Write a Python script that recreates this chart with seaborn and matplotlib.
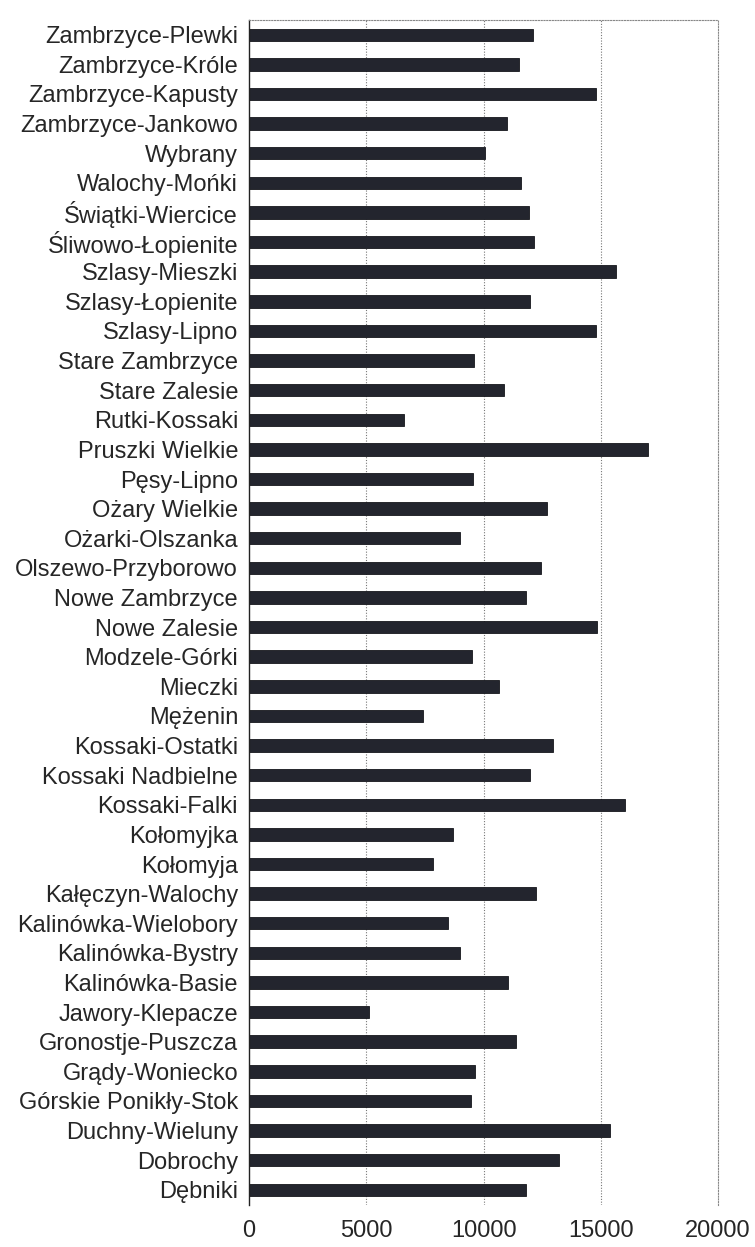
import numpy as np
import matplotlib
matplotlib.use('Agg')
import matplotlib.pyplot as plt
import seaborn as sns

# nazwy miejscowości (od góry do dołu) i wartości
miejscowosci = [
    'Zambrzyce-Plewki', 'Zambrzyce-Króle', 'Zambrzyce-Kapusty', 'Zambrzyce-Jankowo',
    'Wybrany', 'Walochy-Mońki', 'Świątki-Wiercice', 'Śliwowo-Łopienite',
    'Szlasy-Mieszki', 'Szlasy-Łopienite', 'Szlasy-Lipno', 'Stare Zambrzyce',
    'Stare Zalesie', 'Rutki-Kossaki', 'Pruszki Wielkie', 'Pęsy-Lipno',
    'Ożary Wielkie', 'Ożarki-Olszanka', 'Olszewo-Przyborowo', 'Nowe Zambrzyce',
    'Nowe Zalesie', 'Modzele-Górki', 'Mieczki', 'Mężenin',
    'Kossaki-Ostatki', 'Kossaki Nadbielne', 'Kossaki-Falki', 'Kołomyjka',
    'Kołomyja', 'Kałęczyn-Walochy', 'Kalinówka-Wielobory', 'Kalinówka-Bystry',
    'Kalinówka-Basie', 'Jawory-Klepacze', 'Gronostje-Puszcza', 'Grądy-Woniecko',
    'Górskie Ponikły-Stok', 'Duchny-Wieluny', 'Dobrochy', 'Dębniki',
]
wartosci = [
    12100, 11500, 14800, 11000,
    10050, 11600, 11950, 12150,
    15650, 12000, 14800, 9600,
    10850, 6600, 17000, 9550,
    12700, 9000, 12450, 11800,
    14850, 9500, 10650, 7400,
    12950, 12000, 16050, 8700,
    7850, 12230, 8480, 8990,
    11060, 5100, 11400, 9650,
    9450, 15400, 13200, 11800,
]
x_ticks = [0, 5000, 10000, 15000, 20000]

sns.set_style('white')
plt.rcParams['font.family'] = ['Liberation Sans', 'DejaVu Sans']

fig = plt.figure(figsize=(7.55, 12.47), dpi=100)
ax = fig.add_axes([0.330, 0.034, 0.621, 0.950])

sns.barplot(x=wartosci, y=miejscowosci, orient='h', color='#23252e',
            saturation=1, width=0.42, edgecolor='#15161c', linewidth=0.6, ax=ax)

ax.set_xlim(0, 20000)
ax.set_ylim(len(miejscowosci) - 0.5, -0.5)
ax.set_xticks(x_ticks)
ax.set_xticklabels([str(t) for t in x_ticks])
ax.tick_params(axis='x', length=0, pad=11, labelsize=17)
ax.tick_params(axis='y', which='major', length=0, pad=8, labelsize=17)
# drobne kreski na granicach kategorii
ax.set_yticks(np.arange(len(miejscowosci) + 1) - 0.5, minor=True)
ax.tick_params(axis='y', which='minor', length=5, width=0.8, color='#555555', direction='out')

for x in x_ticks[1:-1]:
    ax.axvline(x, color='#777777', linestyle=(0, (1, 1.5)), linewidth=0.8, zorder=0)

ax.spines['left'].set_color('#222222')
ax.spines['left'].set_linewidth(1.0)
for s in ['top', 'right']:
    ax.spines[s].set_color('#888888')
    ax.spines[s].set_linestyle((0, (1, 1.5)))
    ax.spines[s].set_linewidth(0.8)
ax.spines['bottom'].set_visible(False)
ax.set_xlabel('')
ax.set_ylabel('')

fig.savefig('out.png', dpi=100, facecolor='white')
